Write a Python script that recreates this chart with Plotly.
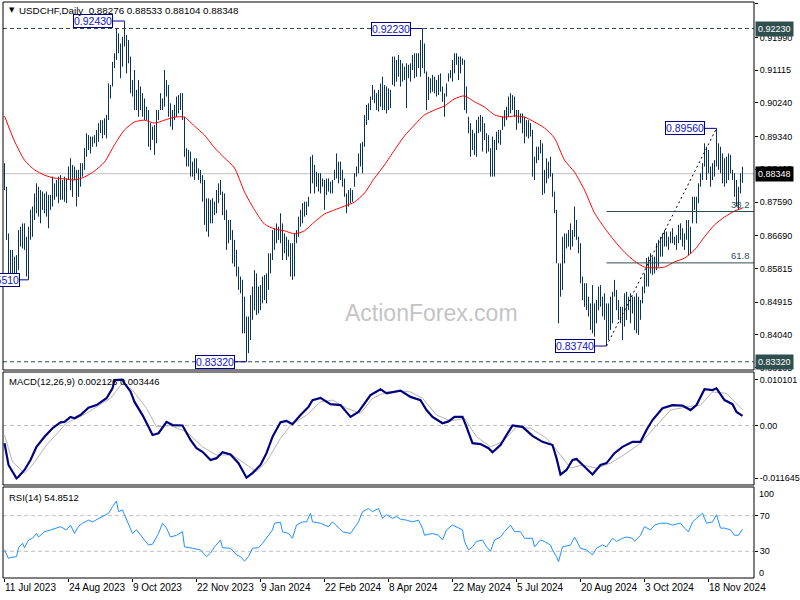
import numpy as np
import pandas as pd
import plotly.graph_objects as go

FONT = "Liberation Sans"
BAR_COLOR = "#0b3452"
NAVY = "#000080"
SLATE = "#2f4f4f"

# broker calendar: weekdays without Christmas / New Year
dates = pd.bdate_range("2023-07-11", "2024-12-31")
dates = dates[~dates.isin(pd.to_datetime(["2023-12-25", "2024-01-01"]))]

bar_high = [
    0.8863, 0.8800, 0.8675, 0.8631, 0.8631, 0.8613, 0.8617, 0.8684, 0.8693, 0.8702,
    0.8702, 0.8666, 0.8693, 0.8738, 0.8747, 0.8782, 0.8809, 0.8800, 0.8791, 0.8787,
    0.8782, 0.8787, 0.8778, 0.8778, 0.8827, 0.8809, 0.8818, 0.8827, 0.8831, 0.8818,
    0.8827, 0.8822, 0.8854, 0.8876, 0.8858, 0.8854, 0.8845, 0.8845, 0.8863, 0.8863,
    0.8903, 0.8943, 0.8938, 0.8934, 0.8934, 0.8938, 0.8952, 0.8970, 0.8978, 0.8978,
    0.8983, 0.8992, 0.9076, 0.9072, 0.9134, 0.9157, 0.9224, 0.9210, 0.9183, 0.9201,
    0.9243, 0.9206, 0.9192, 0.9148, 0.9085, 0.9112, 0.9059, 0.9085, 0.9068, 0.9050,
    0.9036, 0.9014, 0.9005, 0.8970, 0.8961, 0.8965, 0.9005, 0.9005, 0.9050, 0.9036,
    0.9112, 0.9085, 0.9072, 0.9023, 0.9005, 0.9019, 0.9041, 0.9045, 0.9050, 0.9050,
    0.8987, 0.8903, 0.8898, 0.8894, 0.8867, 0.8876, 0.8876, 0.8849, 0.8845, 0.8831,
    0.8818, 0.8769, 0.8769, 0.8765, 0.8769, 0.8760, 0.8791, 0.8809, 0.8818, 0.8787,
    0.8782, 0.8738, 0.8711, 0.8711, 0.8684, 0.8658, 0.8631, 0.8586, 0.8560, 0.8551,
    0.8506, 0.8453, 0.8453, 0.8510, 0.8533, 0.8577, 0.8568, 0.8533, 0.8537, 0.8560,
    0.8564, 0.8568, 0.8622, 0.8622, 0.8684, 0.8689, 0.8702, 0.8693, 0.8729, 0.8702,
    0.8675, 0.8666, 0.8658, 0.8649, 0.8649, 0.8675, 0.8684, 0.8720, 0.8738, 0.8756,
    0.8760, 0.8760, 0.8773, 0.8880, 0.8885, 0.8858, 0.8840, 0.8836, 0.8836, 0.8822,
    0.8818, 0.8822, 0.8822, 0.8813, 0.8818, 0.8845, 0.8889, 0.8867, 0.8867, 0.8845,
    0.8822, 0.8782, 0.8791, 0.8796, 0.8791, 0.8836, 0.8854, 0.8889, 0.8916, 0.8920,
    0.8992, 0.9019, 0.9023, 0.9041, 0.9072, 0.9059, 0.9050, 0.9059, 0.9076, 0.9094,
    0.9072, 0.9068, 0.9063, 0.9059, 0.9148, 0.9148, 0.9139, 0.9152, 0.9139, 0.9130,
    0.9121, 0.9130, 0.9126, 0.9130, 0.9152, 0.9157, 0.9157, 0.9157, 0.9192, 0.9223,
    0.9183, 0.9108, 0.9094, 0.9090, 0.9099, 0.9094, 0.9085, 0.9099, 0.9103, 0.9068,
    0.9050, 0.9076, 0.9103, 0.9112, 0.9139, 0.9157, 0.9157, 0.9148, 0.9148, 0.9143,
    0.9139, 0.9068, 0.8987, 0.8970, 0.8952, 0.8943, 0.8978, 0.8987, 0.8992, 0.8987,
    0.8970, 0.8943, 0.8938, 0.8903, 0.8934, 0.8925, 0.8947, 0.8952, 0.8952, 0.8987,
    0.9005, 0.9014, 0.9041, 0.9050, 0.9045, 0.9041, 0.9005, 0.9005, 0.8996, 0.8996,
    0.8987, 0.8978, 0.8978, 0.8970, 0.8952, 0.8880, 0.8907, 0.8907, 0.8925, 0.8916,
    0.8845, 0.8876, 0.8867, 0.8880, 0.8836, 0.8787, 0.8738, 0.8595, 0.8595, 0.8666,
    0.8675, 0.8675, 0.8684, 0.8702, 0.8684, 0.8747, 0.8711, 0.8666, 0.8649, 0.8560,
    0.8542, 0.8542, 0.8506, 0.8488, 0.8537, 0.8488, 0.8497, 0.8533, 0.8537, 0.8506,
    0.8515, 0.8488, 0.8488, 0.8506, 0.8519, 0.8551, 0.8524, 0.8497, 0.8479, 0.8479,
    0.8515, 0.8519, 0.8506, 0.8515, 0.8506, 0.8506, 0.8515, 0.8506, 0.8497, 0.8533,
    0.8568, 0.8609, 0.8613, 0.8622, 0.8613, 0.8613, 0.8649, 0.8658, 0.8666, 0.8675,
    0.8684, 0.8680, 0.8666, 0.8680, 0.8689, 0.8666, 0.8671, 0.8698, 0.8702, 0.8689,
    0.8675, 0.8711, 0.8711, 0.8693, 0.8773, 0.8773, 0.8773, 0.8809, 0.8836, 0.8863,
    0.8916, 0.8907, 0.8898, 0.8854, 0.8863, 0.8871, 0.8956, 0.8916, 0.8907, 0.8889,
    0.8876, 0.8880, 0.8889, 0.8885, 0.8845, 0.8836, 0.8818, 0.8800, 0.8836, 0.88533,
]

bar_low = [
    0.8791, 0.8658, 0.8568, 0.8568, 0.8568, 0.8560, 0.8564, 0.8577, 0.8640, 0.8635,
    0.8631, 0.8560, 0.8551, 0.8658, 0.8666, 0.8711, 0.8729, 0.8720, 0.8702, 0.8738,
    0.8729, 0.8720, 0.8689, 0.8738, 0.8747, 0.8765, 0.8773, 0.8756, 0.8765, 0.8765,
    0.8760, 0.8756, 0.8818, 0.8791, 0.8773, 0.8818, 0.8747, 0.8773, 0.8800, 0.8827,
    0.8845, 0.8880, 0.8898, 0.8889, 0.8907, 0.8916, 0.8907, 0.8920, 0.8943, 0.8929,
    0.8938, 0.8929, 0.8978, 0.9036, 0.9068, 0.9117, 0.9139, 0.9157, 0.9090, 0.9121,
    0.9175, 0.9103, 0.9130, 0.9050, 0.9041, 0.9005, 0.9005, 0.8987, 0.9005, 0.8987,
    0.8978, 0.8978, 0.8907, 0.8898, 0.8925, 0.8885, 0.8916, 0.8978, 0.9005, 0.9005,
    0.9014, 0.9041, 0.8987, 0.8961, 0.8952, 0.8978, 0.8987, 0.8996, 0.9005, 0.8978,
    0.8880, 0.8854, 0.8854, 0.8827, 0.8827, 0.8818, 0.8836, 0.8818, 0.8809, 0.8760,
    0.8698, 0.8680, 0.8666, 0.8702, 0.8702, 0.8724, 0.8729, 0.8756, 0.8778, 0.8724,
    0.8711, 0.8631, 0.8649, 0.8658, 0.8595, 0.8586, 0.8560, 0.8524, 0.8515, 0.8408,
    0.8408, 0.8332, 0.8355, 0.8390, 0.8444, 0.8470, 0.8457, 0.8461, 0.8470, 0.8488,
    0.8497, 0.8488, 0.8524, 0.8568, 0.8604, 0.8631, 0.8649, 0.8658, 0.8649, 0.8604,
    0.8622, 0.8604, 0.8613, 0.8560, 0.8551, 0.8560, 0.8649, 0.8666, 0.8693, 0.8702,
    0.8720, 0.8724, 0.8747, 0.8782, 0.8809, 0.8782, 0.8800, 0.8787, 0.8782, 0.8800,
    0.8738, 0.8778, 0.8787, 0.8782, 0.8782, 0.8818, 0.8822, 0.8809, 0.8818, 0.8800,
    0.8773, 0.8729, 0.8747, 0.8756, 0.8760, 0.8800, 0.8827, 0.8836, 0.8854, 0.8836,
    0.8907, 0.8965, 0.8978, 0.9005, 0.9032, 0.9023, 0.9005, 0.9001, 0.9014, 0.9005,
    0.9005, 0.8996, 0.9005, 0.9010, 0.9072, 0.9068, 0.9081, 0.9094, 0.9068, 0.9081,
    0.9085, 0.9010, 0.9090, 0.9081, 0.9112, 0.9090, 0.9094, 0.9117, 0.9094, 0.9117,
    0.9103, 0.9005, 0.9032, 0.9050, 0.9054, 0.9050, 0.9041, 0.9045, 0.9054, 0.9027,
    0.8987, 0.9041, 0.9081, 0.9090, 0.9081, 0.9103, 0.9126, 0.9085, 0.9103, 0.9126,
    0.9005, 0.8996, 0.8943, 0.8880, 0.8898, 0.8885, 0.8880, 0.8943, 0.8947, 0.8894,
    0.8925, 0.8889, 0.8894, 0.8827, 0.8827, 0.8827, 0.8898, 0.8916, 0.8912, 0.8952,
    0.8961, 0.8978, 0.8987, 0.8996, 0.9005, 0.8987, 0.8952, 0.8970, 0.8970, 0.8943,
    0.8916, 0.8934, 0.8929, 0.8934, 0.8827, 0.8818, 0.8863, 0.8871, 0.8889, 0.8778,
    0.8782, 0.8809, 0.8822, 0.8827, 0.8773, 0.8729, 0.8595, 0.8435, 0.8506, 0.8524,
    0.8595, 0.8635, 0.8640, 0.8631, 0.8640, 0.8666, 0.8658, 0.8622, 0.8542, 0.8497,
    0.8479, 0.8470, 0.8453, 0.8417, 0.8408, 0.8399, 0.8435, 0.8470, 0.8479, 0.8453,
    0.8444, 0.8374, 0.8390, 0.8417, 0.8435, 0.8506, 0.8470, 0.8444, 0.8435, 0.8390,
    0.8426, 0.8444, 0.8470, 0.8435, 0.8461, 0.8417, 0.8408, 0.8404, 0.8444, 0.8488,
    0.8515, 0.8533, 0.8533, 0.8568, 0.8564, 0.8568, 0.8577, 0.8586, 0.8613, 0.8613,
    0.8640, 0.8640, 0.8631, 0.8649, 0.8649, 0.8644, 0.8631, 0.8649, 0.8658, 0.8640,
    0.8631, 0.8658, 0.8617, 0.8622, 0.8702, 0.8738, 0.8702, 0.8756, 0.8800, 0.8818,
    0.8854, 0.8818, 0.8836, 0.8800, 0.8818, 0.8827, 0.8854, 0.8845, 0.8836, 0.8809,
    0.8800, 0.8809, 0.8818, 0.8836, 0.8818, 0.8773, 0.8747, 0.8738, 0.8782, 0.88104,
]

last_ohlc = [0.88276, 0.88533, 0.88104, 0.88348]

# red moving average, read every 5 bars
ma_idx = list(range(0, 370, 5)) + [369]
ma_vals = [
    0.8989, 0.8922, 0.8871, 0.8845, 0.8831, 0.8823, 0.8821, 0.8818, 0.8826, 0.8842,
    0.8866, 0.8912, 0.8952, 0.8973, 0.8978, 0.8970, 0.8978, 0.8986, 0.8986, 0.8962,
    0.8938, 0.8904, 0.8877, 0.8850, 0.8786, 0.8738, 0.8700, 0.8687, 0.8682, 0.8674,
    0.8682, 0.8706, 0.8727, 0.8738, 0.8748, 0.8759, 0.8783, 0.8823, 0.8858, 0.8898,
    0.8936, 0.8965, 0.8992, 0.9005, 0.9016, 0.9035, 0.9043, 0.9027, 0.9013, 0.8992,
    0.8986, 0.8989, 0.8986, 0.8973, 0.8957, 0.8930, 0.8871, 0.8839, 0.8791, 0.8730,
    0.8690, 0.8655, 0.8625, 0.8601, 0.8585, 0.8583, 0.8585, 0.8599, 0.8609, 0.8631,
    0.8666, 0.8698, 0.8719, 0.8735, 0.8743,
]

# MACD(12,26,9) main and signal lines
macd_idx = [
    0, 2, 6, 7, 10, 13, 16, 20, 24, 28, 30, 33, 35, 38, 42, 46, 51, 54, 55, 59,
    60, 63, 65, 69, 72, 74, 77, 79, 81, 84, 89, 93, 96, 99, 103, 106, 109, 113, 117, 121,
    124, 128, 131, 134, 138, 141, 144, 148, 152, 154, 158, 163, 168, 173, 177, 183, 188, 191, 198, 203,
    208, 211, 214, 219, 222, 225, 229, 231, 234, 238, 242, 244, 248, 251, 254, 259, 264, 269, 274, 276,
    278, 281, 284, 286, 289, 294, 298, 301, 305, 309, 314, 318, 321, 324, 329, 334, 339, 343, 346, 350,
    354, 356, 360, 364, 366, 369,
]
macd_vals = [
    -0.0039, -0.0087, -0.011645, -0.0113, -0.0098, -0.0076, -0.0047, -0.0025, -0.0006, 0.0007,
    0.0008, 0.0019, 0.0016, 0.0023, 0.0039, 0.0045, 0.0060, 0.0082, 0.0100, 0.010101,
    0.0093, 0.0075, 0.0052, 0.0023, -0.0003, -0.0021, -0.0017, -0.0003, 0.0008, 0.0001,
    0.0000, -0.0032, -0.0050, -0.0058, -0.0076, -0.0072, -0.0059, -0.0064, -0.0083, -0.0115,
    -0.0105, -0.0087, -0.0061, -0.0025, 0.0007, 0.0010, 0.0003, 0.0023, 0.0041, 0.0056,
    0.0061, 0.0047, 0.0045, 0.0019, 0.0030, 0.0067, 0.0080, 0.0071, 0.0077, 0.0063,
    0.0056, 0.0034, 0.0019, 0.0005, 0.0009, 0.0019, 0.0019, -0.0003, -0.0039, -0.0041,
    -0.0050, -0.0059, -0.0043, -0.0021, 0.0000, -0.0003, -0.0023, -0.0036, -0.0043, -0.0072,
    -0.0108, -0.0098, -0.0076, -0.0074, -0.0087, -0.0108, -0.0087, -0.0083, -0.0061, -0.0047,
    -0.0036, -0.0036, -0.0010, 0.0012, 0.0038, 0.0045, 0.0044, 0.0034, 0.0045, 0.0080,
    0.0078, 0.0082, 0.0056, 0.0047, 0.0030, 0.002126,
]
signal_idx = [
    0, 4, 10, 14, 21, 31, 41, 53, 59, 64, 71, 76, 83, 91, 99, 106, 114, 121, 126, 131,
    138, 143, 151, 158, 164, 171, 178, 184, 191, 198, 203, 209, 216, 223, 230, 236, 243, 249, 256, 263,
    271, 278, 283, 289, 296, 303, 311, 318, 326, 333, 341, 348, 354, 361, 366, 369,
]
signal_vals = [
    -0.0021, -0.0080, -0.0105, -0.0087, -0.0043, 0.0005, 0.0027, 0.0060, 0.0094, 0.0078,
    0.0038, -0.0003, 0.0000, -0.0014, -0.0047, -0.0065, -0.0065, -0.0087, -0.0102, -0.0080,
    -0.0028, 0.0000, 0.0023, 0.0052, 0.0056, 0.0038, 0.0027, 0.0060, 0.0074, 0.0076,
    0.0074, 0.0060, 0.0023, 0.0010, 0.0016, -0.0025, -0.0047, -0.0036, -0.0003, -0.0006,
    -0.0028, -0.0065, -0.0094, -0.0087, -0.0094, -0.0083, -0.0061, -0.0039, 0.0000, 0.0034,
    0.0041, 0.0045, 0.0074, 0.0071, 0.0048, 0.003446,
]

# RSI(14)
rsi_idx = [
    0, 2, 3, 6, 7, 9, 10, 12, 14, 16, 17, 20, 23, 26, 28, 31, 33, 35, 37, 39,
    42, 44, 47, 49, 52, 54, 56, 57, 59, 60, 62, 64, 66, 68, 72, 74, 77, 79, 81, 83,
    86, 89, 90, 94, 98, 101, 103, 105, 108, 109, 113, 116, 118, 120, 122, 124, 127, 129, 131, 134,
    135, 138, 139, 142, 144, 146, 149, 151, 153, 154, 158, 162, 164, 167, 169, 173, 175, 177, 179, 182,
    184, 187, 189, 191, 194, 196, 198, 201, 204, 207, 209, 210, 214, 217, 219, 221, 224, 227, 229, 230,
    232, 234, 236, 239, 241, 243, 245, 248, 250, 253, 255, 258, 260, 264, 265, 268, 270, 273, 274, 276,
    277, 279, 283, 285, 288, 291, 294, 296, 299, 301, 304, 306, 309, 311, 314, 315, 318, 320, 323, 325,
    328, 331, 334, 338, 340, 342, 344, 346, 349, 351, 354, 356, 358, 360, 363, 365, 367, 369,
]
rsi_vals = [
    31.5, 22, 23, 24, 34, 39, 34, 42.7, 44.6, 50, 46, 52, 54, 56, 57.6, 54, 59.5, 50, 58, 61.5,
    65, 63, 67, 69, 72.7, 80, 86.5, 74.5, 76.4, 71, 59.5, 50, 54, 48, 37, 38, 50, 61.5, 56, 46,
    48, 52, 35, 33.4, 31.5, 24, 28, 35, 42.7, 34, 33.4, 26, 24, 19, 24, 33.4, 34, 39, 44.6, 54,
    61.5, 62.6, 52, 50, 44.6, 59.5, 63, 63, 72.7, 63, 61.5, 57.6, 63, 56, 52, 50, 56, 63, 74.5, 78,
    74.5, 78, 67, 71, 67, 69, 66, 65, 63, 65, 56, 48, 50, 48, 42.7, 54, 59.5, 56, 54, 41,
    31.5, 35, 41, 42.7, 35, 30, 42.7, 46, 52, 59.5, 52, 52, 44.6, 44.6, 35, 42.7, 41, 37, 31.5, 24,
    18.3, 35, 37, 46, 33.4, 31.5, 26, 33.4, 37, 35, 44.6, 41, 44.6, 46, 44.6, 41, 48, 57.6, 54, 59.5,
    61.5, 61.5, 59.5, 61.5, 56, 52, 63, 67, 72.7, 61.5, 63, 71, 56, 56, 54, 48, 48, 54.8512,
]

# labelled swing points and levels
swing_idx = [12, 60, 121, 209, 301, 356]
swing_price = [0.85510, 0.92430, 0.83320, 0.92230, 0.83740, 0.89560]
dashed_levels = [0.92230, 0.83320]
fib_ratios = [0.382, 0.618]
fib_from, fib_to = 4, 5  # positions in swing lists: 0.8374 low -> 0.8956 high

price_ticks = [0.92890, 0.91990, 0.91115, 0.90240, 0.89340, 0.88465,
               0.87590, 0.86690, 0.85815, 0.84915, 0.84040, 0.83165]
date_tick_idx = [0, 32, 64, 96, 128, 160, 192, 224, 256, 288, 320, 352]

n = len(bar_high)
idx = np.arange(n)
x_range = [-0.75, 374.75]

# OHLC bars drawn as vertical high-low strokes
bx = np.column_stack([idx, idx, np.full(n, np.nan)]).ravel()
by = np.column_stack([bar_low, bar_high, np.full(n, np.nan)]).ravel()

lo_i, hi_i = swing_idx[fib_from], swing_idx[fib_to]
lo_p, hi_p = swing_price[fib_from], swing_price[fib_to]
fib_levels = [hi_p - r * (hi_p - lo_p) for r in fib_ratios]

fig = go.Figure()
fig.add_trace(go.Scatter(x=bx, y=by, mode="lines", line=dict(color=BAR_COLOR, width=1),
                         hoverinfo="skip", yaxis="y"))
fig.add_trace(go.Scatter(x=ma_idx, y=ma_vals, mode="lines",
                         line=dict(color="#ff0000", width=1, shape="spline", smoothing=0.6),
                         yaxis="y"))
fig.add_trace(go.Scatter(x=[lo_i, hi_i], y=[lo_p, hi_p], mode="lines",
                         line=dict(color="black", width=1, dash="2px,3px"), yaxis="y"))
fig.add_trace(go.Scatter(x=signal_idx, y=signal_vals, mode="lines",
                         line=dict(color="#b4b4b4", width=1), yaxis="y2"))
fig.add_trace(go.Scatter(x=macd_idx, y=macd_vals, mode="lines",
                         line=dict(color=NAVY, width=2.2), yaxis="y2"))
fig.add_trace(go.Scatter(x=rsi_idx, y=rsi_vals, mode="lines",
                         line=dict(color="#1e90ff", width=1), yaxis="y3"))

# panel domains (paper fractions)
main_dom = [0.3611, 1.0]
macd_dom = [0.1615, 0.3576]
rsi_dom = [0.0, 0.1580]

shapes = []
for lvl in dashed_levels:
    shapes.append(dict(type="line", xref="paper", x0=0, x1=1, yref="y", y0=lvl, y1=lvl,
                       line=dict(color=SLATE, width=1, dash="4px,3px"), layer="below"))
shapes.append(dict(type="line", xref="paper", x0=0, x1=1, yref="y",
                   y0=last_ohlc[3], y1=last_ohlc[3],
                   line=dict(color="#c0c0c0", width=1), layer="below"))
for lvl in fib_levels:
    shapes.append(dict(type="line", xref="x", x0=lo_i, x1=x_range[1], yref="y", y0=lvl, y1=lvl,
                       line=dict(color=SLATE, width=1)))
shapes.append(dict(type="line", xref="paper", x0=0, x1=1, yref="y2", y0=0, y1=0,
                   line=dict(color="#c0c0c0", width=1, dash="4px,3px"), layer="below"))
for lvl in [70, 30]:
    shapes.append(dict(type="line", xref="paper", x0=0, x1=1, yref="y3", y0=lvl, y1=lvl,
                       line=dict(color="#c0c0c0", width=1, dash="4px,3px"), layer="below"))
for dom in [main_dom, macd_dom, rsi_dom]:
    shapes.append(dict(type="rect", xref="paper", yref="paper", x0=0, x1=1, y0=dom[0], y1=dom[1],
                       line=dict(color="black", width=1)))

annotations = []
for i, p in zip(swing_idx, swing_price):
    annotations.append(dict(
        x=i, y=p, xref="x", yref="y", text=f"{p:.5f}", showarrow=True, arrowhead=0,
        arrowwidth=1, arrowcolor=NAVY, ax=-32, ay=0, standoff=0, bgcolor="white",
        bordercolor=NAVY, borderwidth=1, borderpad=0,
        font=dict(family=FONT, size=10.5, color="#1414c8"),
    ))
for r, lvl in zip(fib_ratios, fib_levels):
    annotations.append(dict(xref="paper", x=1, xanchor="right", xshift=-2, yref="y", y=lvl,
                            yanchor="bottom", yshift=0, text=f"{r * 100:.1f}", showarrow=False,
                            font=dict(family=FONT, size=9.5, color=SLATE)))
# price tags on the right scale
for lvl, bg in [(dashed_levels[0], SLATE), (dashed_levels[1], SLATE), (last_ohlc[3], "black")]:
    annotations.append(dict(xref="paper", x=1, xanchor="left", xshift=1, yref="y", y=lvl,
                            text=f"{lvl:.5f}", showarrow=False, bgcolor=bg, borderpad=2,
                            font=dict(family=FONT, size=9, color="white")))
for v, shift in [(100, -5), (0, 5)]:
    annotations.append(dict(xref="paper", x=1, xanchor="left", xshift=3, yref="y3", y=v,
                            yshift=shift, text=str(v), showarrow=False,
                            font=dict(family=FONT, size=9, color="black")))
annotations += [
    dict(xref="paper", yref="paper", x=0.005, y=0.986, xanchor="left", yanchor="middle",
         text="▼", showarrow=False, font=dict(family="DejaVu Sans", size=7, color="black")),
    dict(xref="paper", yref="paper", x=0.019, y=0.986, xanchor="left", yanchor="middle",
         text="USDCHF,Daily\u00a0\u00a0" + " ".join(f"{v:.5f}" for v in last_ohlc),
         showarrow=False, font=dict(family=FONT, size=9.8, color="black")),
    dict(xref="paper", yref="paper", x=0.005, y=0.342, xanchor="left", yanchor="middle",
         text=f"MACD(12,26,9) {macd_vals[-1]:.6f} {signal_vals[-1]:.6f}", showarrow=False,
         font=dict(family=FONT, size=9.5, color="black")),
    dict(xref="paper", yref="paper", x=0.005, y=0.1406, xanchor="left", yanchor="middle",
         text=f"RSI(14) {rsi_vals[-1]:.4f}", showarrow=False,
         font=dict(family=FONT, size=9.5, color="black")),
    dict(xref="paper", yref="paper", x=0.57, y=0.46, xanchor="center", yanchor="middle",
         text="ActionForex.com", showarrow=False,
         font=dict(family=FONT, size=23, color="#c4c4c4")),
]

axis_common = dict(showgrid=False, zeroline=False, showline=False, ticks="outside", ticklen=3,
                   tickcolor="black", tickfont=dict(family=FONT, size=9, color="black"),
                   fixedrange=True, automargin=False)

fig.update_layout(
    width=800, height=600,
    margin=dict(l=3, r=46, t=2, b=22, autoexpand=False),
    paper_bgcolor="white", plot_bgcolor="white",
    showlegend=False, hovermode=False,
    font=dict(family=FONT, size=9.5, color="black"),
    xaxis=dict(axis_common, range=x_range, domain=[0, 1], anchor="y3",
               tickvals=date_tick_idx,
               ticktext=[dates[i].strftime("%-d %b %Y") for i in date_tick_idx],
               ticklabelposition="outside right",
               tickfont=dict(family=FONT, size=10, color="black")),
    yaxis=dict(axis_common, domain=main_dom, range=[0.83099, 0.929386], side="right",
               anchor="x", tickvals=price_ticks, ticktext=[f"{v:.5f}" for v in price_ticks]),
    yaxis2=dict(axis_common, domain=macd_dom, range=[-0.013109, 0.011787], side="right",
                anchor="x", tickvals=[max(macd_vals), 0, min(macd_vals)],
                ticktext=[f"{max(macd_vals):.6f}", "0.00", f"{min(macd_vals):.6f}"]),
    yaxis3=dict(axis_common, domain=rsi_dom, range=[0, 102.2], side="right", anchor="x",
                tickvals=[70, 30], ticktext=["70", "30"]),
    shapes=shapes,
    annotations=annotations,
)

# page body has a default 8px margin; drop it so the chart sits at the window origin
fig.write_html("out.html", config={"displayModeBar": False},
               post_script="document.body.style.margin='0';")
